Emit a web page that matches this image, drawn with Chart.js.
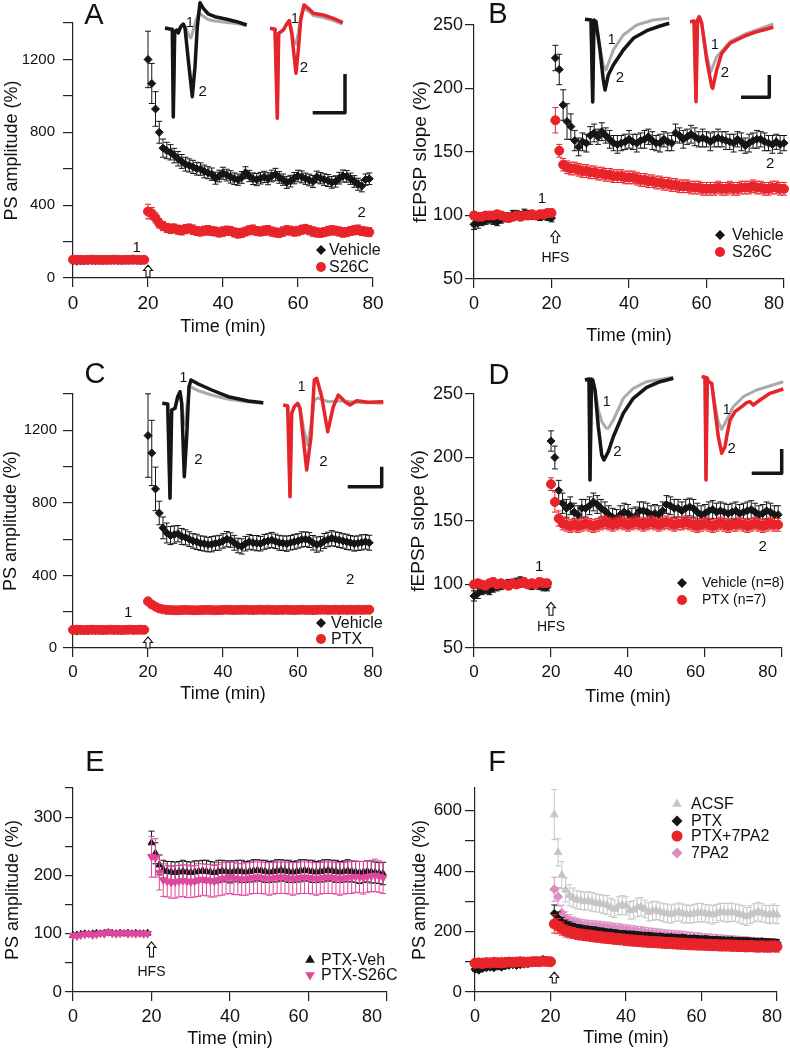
<!DOCTYPE html>
<html>
<head>
<meta charset="utf-8">
<title>PS amplitude and fEPSP slope after HFS</title>
<script src="https://cdn.jsdelivr.net/npm/chart.js"></script>
<style>
  body { margin: 0; background: #fff; }
  #fig { position: relative; width: 790px; height: 1050px; overflow: hidden; }
  #fig canvas { position: absolute; }
</style>
</head>
<body>
<div id="fig"></div>
<script>
// ---------- data (% of baseline, one point per minute) ----------
// Panel A: PS amplitude, Vehicle vs S26C
const aVehBase = [93,92,94,95,96,95,94,96,97,96,97,96,97,98,97,98,97,98,97,98];
const aVehPost = [1200,1068,928,800,713,700,690,672,655,640,
                  625,618,610,600,598,585,578,570,548,560,
                  575,565,555,545,540,552,578,560,545,540,
                  548,555,545,560,568,552,540,525,532,548,
                  560,555,545,538,530,555,548,540,535,525,
                  530,548,560,558,545,530,515,505,540,545];
const aVehErrBase = [6,6,6,6,6,6,6,6,6,6,6,6,6,6,6,6,6,6,6,6];
const aVehErrPost = [155,110,95,60,50,45,42,40,40,38,
                     38,36,36,35,34,35,33,34,33,32,
                     33,32,34,32,31,32,33,31,32,33,
                     32,31,33,32,34,32,31,33,32,31,
                     32,33,31,32,33,32,31,32,33,32,
                     31,32,33,32,31,32,33,32,31,32];
const aS26CBase = [101,100,100,99,100,101,100,100,99,100,100,101,100,99,100,100,101,100,99,100];
const aS26CPost = [365,355,330,300,285,275,270,272,265,262,
                   268,272,265,258,255,260,262,258,255,250,
                   255,260,258,250,245,248,255,262,265,258,
                   255,260,262,255,250,248,255,262,260,255,
                   258,265,270,262,255,250,248,252,258,262,
                   260,255,250,252,258,262,265,258,255,252];
const aS26CErrBase = [5,5,5,5,5,5,5,5,5,5,5,5,5,5,5,5,5,5,5,5];
const aS26CErrPost = [40,32,28,26,25,25,26,24,25,26,
                      25,24,26,25,24,25,26,25,24,25,
                      26,25,24,25,26,25,24,25,26,25,
                      24,25,26,25,24,25,26,25,24,25,
                      26,25,24,25,26,25,24,25,26,25,
                      24,25,26,25,24,25,26,25,24,25];

// Panel B: fEPSP slope, Vehicle vs S26C (0..80 min)
const bVehBase = [93,94,95,96,97,96,95,97,98,99,101,101,100,102,101,100,100,99,100,99,98];
const bVehPost = [224,215,187,174,170,159,154,158,157,163,
                  165,162,166,163,160,157,156,157,158,160,
                  158,157,159,160,162,159,157,157,160,158,
                  157,165,163,160,162,164,162,160,161,160,
                  158,160,161,160,159,158,157,160,158,155,
                  157,159,160,160,158,157,156,158,156,157];
const bVehErrBase = [4,4,3,3,3,3,3,3,3,3,3,3,3,3,3,3,3,3,3,3,3];
const bVehErrPost = [10,12,12,14,10,8,7,7,7,7,
                     7,6,7,6,7,6,7,6,6,7,
                     6,7,6,7,6,7,6,7,6,7,
                     6,7,6,7,6,7,7,6,7,6,
                     7,6,7,6,7,6,7,6,7,6,
                     7,6,7,6,7,6,7,6,7,6];
const bS26CBase = [100,99,99,100,100,100,101,100,99,98,99,100,99,100,100,101,100,101,101,102,102];
const bS26CPost = [175,151,140,138,137,137,136,135,135,134,
                   134,133,133,132,132,131,131,131,130,130,
                   130,129,128,128,127,127,126,126,125,125,
                   124,124,123,123,123,122,122,122,121,121,
                   121,121,122,121,121,122,121,121,122,122,
                   122,123,122,122,121,121,122,122,121,121];
const bS26CErrBase = [3,3,3,3,3,3,3,3,3,3,3,3,3,3,3,3,3,3,3,3,3];
const bS26CErrPost = [10,5,5,5,5,5,5,5,5,5,
                      5,5,5,5,5,5,5,5,5,5,
                      5,5,5,5,5,5,5,5,5,5,
                      5,5,5,5,5,5,5,5,5,5,
                      5,5,5,5,5,5,5,5,5,5,
                      5,5,5,5,5,5,5,5,5,5];

// Panel C: PS amplitude, Vehicle vs PTX
const cVehBase = [94,93,95,96,95,97,96,97,98,97,98,97,98,99,98,99,98,99,98,99];
const cVehPost = [1171,1075,877,744,662,634,620,625,630,615,
                  610,600,590,585,578,575,570,572,578,580,
                  590,600,595,580,565,560,575,585,580,578,
                  575,585,590,595,588,580,578,575,580,585,
                  590,598,600,595,580,570,575,590,598,605,
                  600,595,590,585,580,575,578,582,585,580];
const cVehErrBase = [7,7,7,7,7,7,7,7,7,7,7,7,7,7,7,7,7,7,7,7];
const cVehErrPost = [230,180,120,65,60,55,50,48,45,44,
                     42,41,40,42,40,41,40,42,40,41,
                     40,42,40,41,40,42,40,41,40,42,
                     40,41,40,42,40,41,40,42,40,41,
                     40,42,40,41,40,42,40,41,40,42,
                     40,41,40,42,40,41,40,42,40,41];
const cPTXBase = [100,101,100,99,100,101,100,100,99,100,101,100,100,99,100,101,100,100,101,100];
const cPTXPost = [257,240,228,218,213,210,209,208,208,209,
                  210,209,208,208,209,210,210,209,208,209,
                  210,211,210,209,210,210,211,210,209,210,
                  211,210,211,210,209,210,210,211,210,209,
                  210,211,210,210,209,210,211,211,210,210,
                  211,210,211,210,211,210,211,210,211,211];
const cPTXErrBase = [6,6,6,6,6,6,6,6,6,6,6,6,6,6,6,6,6,6,6,6];
const cPTXErrPost = [9,8,8,7,7,7,7,7,7,7,
                     7,7,7,7,7,7,7,7,7,7,
                     7,7,7,7,7,7,7,7,7,7,
                     7,7,7,7,7,7,7,7,7,7,
                     7,7,7,7,7,7,7,7,7,7,
                     7,7,7,7,7,7,7,7,7,7];

// Panel D: fEPSP slope, Vehicle (n=8) vs PTX (n=7)
const dVehBase = [91,93,95,96,95,97,98,99,100,101,101,102,103,101,100,99,100,99,98,98];
const dVehPost = [213,200,174,164,160,162,157,155,160,160,
                  162,165,163,160,158,155,153,152,155,157,
                  156,153,154,158,158,157,155,156,155,158,
                  163,162,160,160,158,160,161,160,157,155,
                  156,158,159,157,158,157,156,157,158,156,
                  157,158,159,157,155,156,158,157,155,155];
const dVehErrBase = [4,4,3,3,3,3,3,3,3,3,3,3,3,3,3,3,3,3,3,3];
const dVehErrPost = [8,9,8,8,7,7,7,7,7,7,
                     7,7,7,7,7,7,7,7,7,7,
                     7,7,7,7,7,7,7,7,7,7,
                     7,7,7,7,7,7,7,7,7,7,
                     7,7,7,7,7,7,7,7,7,7,
                     7,7,7,7,7,7,7,7,7,7];
const dPTXBase = [100,101,100,99,101,102,100,101,100,99,101,100,101,102,100,101,100,102,101,101];
const dPTXPost = [179,165,152,148,147,146,147,146,147,148,
                  147,146,147,148,149,148,147,148,149,148,
                  147,148,149,148,147,148,149,148,147,148,
                  149,148,147,148,148,149,148,147,146,147,
                  148,147,146,147,148,147,146,147,147,148,
                  147,146,147,148,147,146,147,148,147,147];
const dPTXErrBase = [3,3,3,3,3,3,3,3,3,3,3,3,3,3,3,3,3,3,3,3];
const dPTXErrPost = [5,8,6,5,5,5,5,5,5,5,
                     5,5,5,5,5,5,5,5,5,5,
                     5,5,5,5,5,5,5,5,5,5,
                     5,5,5,5,5,5,5,5,5,5,
                     5,5,5,5,5,5,5,5,5,5,
                     5,5,5,5,5,5,5,5,5,5];

// Panel E: PS amplitude, PTX-Veh vs PTX-S26C
const eVehBase = [97,98,99,100,99,100,101,100,101,102,101,100,101,100,101,100,101,100,100,101];
const eVehPost = [256,238,218,210,207,206,205,206,207,206,
                  205,206,207,208,207,206,205,207,208,207,
                  206,207,208,207,206,207,208,209,208,207,
                  206,207,208,209,208,207,206,207,208,209,
                  208,207,206,207,208,209,208,207,206,207,
                  208,207,206,205,206,207,206,205,204,203];
const eVehErrBase = [3,3,3,3,3,3,3,3,3,3,3,3,3,3,3,3,3,3,3,3];
const eVehErrPost = [20,18,17,16,17,18,18,18,19,18,
                     18,19,18,18,19,18,18,19,18,18,
                     19,18,18,19,18,18,19,18,18,19,
                     18,18,19,18,18,19,18,18,19,18,
                     18,19,18,18,19,18,18,19,18,18,
                     19,18,18,19,18,18,19,18,18,19];
const eS26CBase = [97,96,98,99,100,98,99,101,100,103,101,100,101,102,100,101,100,101,100,100];
const eS26CPost = [232,230,205,192,190,188,189,190,191,190,
                   189,190,192,193,192,191,190,192,194,195,
                   196,195,194,193,194,195,196,197,196,195,
                   194,195,196,197,196,195,194,195,196,197,
                   196,195,194,195,196,197,196,195,194,195,
                   196,197,198,197,196,198,199,200,198,196];
const eS26CErrBase = [3,3,3,3,3,3,3,3,3,3,3,3,3,3,3,3,3,3,3,3];
const eS26CErrPost = [35,33,30,28,27,27,28,27,27,28,
                      27,27,28,27,27,28,27,27,28,27,
                      27,28,27,27,28,27,27,28,27,27,
                      28,27,27,28,27,27,28,27,27,28,
                      27,27,28,27,27,28,27,27,28,27,
                      27,28,27,27,28,27,27,28,27,27];

// Panel F: PS amplitude, ACSF / PTX / PTX+7PA2 / 7PA2 (0..80 min)
const fACSFBase = [95,92,95,96,97,98,99,100,99,100,101,100,101,100,101,102,101,100,101,102,100];
const fACSFPost = [587,462,387,338,320,312,305,303,300,302,
                   298,295,293,290,288,280,275,285,288,285,
                   270,272,280,282,275,265,268,270,266,262,
                   260,258,262,265,260,258,257,260,262,263,
                   260,258,256,260,265,263,262,264,262,258,
                   255,250,256,262,266,262,258,256,260,256];
const fACSFErrBase = [8,8,8,8,8,8,8,8,8,8,8,8,8,8,8,8,8,8,8,8,8];
const fACSFErrPost = [83,45,45,40,35,32,30,30,29,30,
                      31,30,29,30,31,30,29,30,31,30,
                      29,30,31,30,29,30,31,30,29,30,
                      31,30,29,30,31,30,29,30,31,30,
                      29,30,31,30,29,30,31,30,29,30,
                      31,30,29,30,31,30,29,30,31,30];
const fPTXBase = [75,72,78,80,82,80,85,82,86,88,90,88,90,92,94,96,98,100,108,105,100];
const fPTXPost = [260,245,232,225,220,216,212,211,208,207,
                  205,204,201,200,197,197,195,193,192,191,
                  190,190,188,187,186,186,184,183,183,181,
                  180,181,179,178,179,177,176,177,175,174,
                  175,173,172,173,171,171,170,171,169,169,
                  168,169,167,167,166,167,165,165,164,163];
const fPTXErrBase = [6,6,6,6,6,6,6,6,6,6,6,6,6,6,6,6,6,6,6,6,6];
const fPTXErrPost = [28,20,15,13,12,11,11,10,11,10,
                     11,10,11,10,11,10,11,10,11,10,
                     11,10,11,10,11,10,11,10,11,10,
                     11,10,11,10,11,10,11,10,11,10,
                     11,10,11,10,11,10,11,10,11,10,
                     11,10,11,10,11,10,11,10,11,10];
const fComboBase = [95,96,94,97,96,98,97,96,98,99,98,99,100,99,98,100,101,100,102,101,100];
const fComboPost = [225,218,210,202,198,195,192,190,188,187,
                    185,183,182,180,179,178,176,175,174,172,
                    171,170,169,168,167,166,165,165,164,163,
                    162,162,161,160,160,159,158,158,157,157,
                    156,156,155,155,154,154,154,153,153,152,
                    152,151,152,151,150,151,150,150,151,150];
const fComboErrBase = [8,8,8,8,8,8,8,8,8,8,8,8,8,8,8,8,8,8,8,8,8];
const fComboErrPost = [30,25,22,20,19,18,18,18,18,18,
                       18,18,18,18,18,18,18,18,18,18,
                       18,18,18,18,18,18,18,18,18,18,
                       18,18,18,18,18,18,18,18,18,18,
                       18,18,18,18,18,18,18,18,18,18,
                       18,18,18,18,18,18,18,18,18,18];
const f7PA2Base = [98,99,100,101,100,102,101,103,100,101,102,100,101,102,103,101,100,102,101,100,101];
const f7PA2Post = [340,315,262,245,238,232,228,225,223,221,
                   220,219,218,216,215,213,211,210,208,206,
                   205,203,201,200,198,196,195,193,192,190,
                   189,188,187,186,185,183,182,181,180,178,
                   177,176,175,174,173,172,171,170,169,168,
                   167,166,165,164,163,162,161,160,159,158];
const f7PA2ErrBase = [6,6,6,6,6,6,6,6,6,6,6,6,6,6,6,6,6,6,6,6,6];
const f7PA2ErrPost = [40,30,25,20,18,16,16,16,16,16,
                      16,16,16,16,16,16,16,16,16,16,
                      16,16,16,16,16,16,16,16,16,16,
                      16,16,16,16,16,16,16,16,16,16,
                      16,16,16,16,16,16,16,16,16,16,
                      16,16,16,16,16,16,16,16,16,16];

// ---------- inset traces: [t, v] pairs (t in sample units, v negative = downward) ----------
const trA_veh1 = [[5,-28],[10,-29],[12.3,-29.3],[13.3,-117],[14.7,-31.7],[16.7,-30],[18.3,-33],[20.7,-26.7],[23.3,-24],[26,-28],[29,-36],[31,-38],[33,-31],[36,-20],[39,-13],[43,-16],[48,-19.5],[55,-21],[66.7,-22.5],[76.7,-23.5],[86.7,-25.5]];
const trA_veh2 = [[5,-28],[10,-29],[12.3,-29.3],[13.3,-117],[14.7,-31.7],[16.7,-30],[18.3,-33],[20.7,-26.7],[23.3,-24],[25,-28],[28.3,-60],[32.3,-96.7],[35,-66.7],[37.3,-26.7],[40,-2.7],[43.3,-8.3],[48.3,-14],[55,-16.7],[66.7,-19.3],[76.7,-21.7],[86.7,-25]];
const trA_drug1 = [[110,-28.3],[115,-29.3],[117.3,-118.3],[118.7,-33.3],[123.3,-30],[126.7,-24],[129.3,-20.7],[131.7,-31],[134,-42],[136,-44],[138.3,-33],[141,-15],[143.5,-8.5],[148.3,-11],[153.3,-15.5],[163.3,-17.5],[173.3,-20.5],[182.7,-24]];
const trA_drug2 = [[110,-28.3],[115,-29.3],[117.3,-118.3],[118.7,-33.3],[123.3,-30],[126.7,-24],[129.3,-20.7],[131.7,-33.3],[136,-73.3],[138.3,-50],[140.7,-20],[144,-5],[148.3,-8.3],[153.3,-13.3],[163.3,-15],[173.3,-18.3],[182.7,-22.7]];
const trA_bar = [[152.7,-112.7],[185,-112.7],[185,-74]];

const trB_veh1 = [[5,-9.3],[11,-10],[12.7,-92],[14,-10],[16,-11.7],[20,-38],[23.3,-55],[26,-60],[28.5,-53],[33.3,-40],[43.3,-25],[56.7,-15],[73.3,-10],[89.3,-8.3]];
const trB_veh2 = [[5,-9.3],[11,-10],[12.7,-92],[14,-10],[16,-11.7],[20,-40],[23.3,-70],[25,-80],[28.3,-65],[33.3,-55],[43.3,-40],[53.3,-28.3],[66.7,-20.7],[80,-16],[89.3,-13.3]];
const trB_drug1 = [[110,-11.7],[114,-11],[116,-91.7],[117.5,-10],[119.3,-6.7],[121.7,-13.3],[126.7,-45],[130.7,-62],[136.7,-46.7],[150,-31.7],[166.7,-23.3],[193.3,-14]];
const trB_drug2 = [[110,-11.7],[114,-11],[116,-91.7],[117.5,-10],[119.3,-6.7],[121.7,-13.3],[126.7,-50],[131.7,-76.7],[132.7,-78.3],[136.7,-60],[141.7,-43.3],[150,-33.3],[163.3,-26.7],[176.7,-21.7],[193.3,-17.3]];
const trB_bar = [[161,-87.3],[189.3,-87.3],[189.3,-65]];

const trC_veh1 = [[7.3,-33.3],[12.7,-34],[15,-128.3],[16.7,-40],[20,-38.3],[22.7,-26.7],[25,-21.7],[26.7,-33],[28.5,-55],[30,-55],[32,-35],[35,-16.7],[43.3,-20.7],[56.7,-25],[73.3,-29.3],[93.3,-32],[108.3,-33.3]];
const trC_veh2 = [[7.3,-33.3],[12.7,-34],[15,-128.3],[16.7,-40],[20,-38.3],[22.7,-26.7],[25,-21.7],[26.7,-33.3],[29.3,-106.7],[31.7,-66.7],[34,-16.7],[36,-10],[43.3,-14],[56.7,-20],[73.3,-26.7],[93.3,-31],[108.3,-32.7]];
const trC_drug1 = [[128.3,-35],[132.7,-36],[135,-126.7],[136.7,-43.3],[139.3,-36.7],[142.7,-33.3],[145,-38.3],[149,-60],[152.5,-75],[156,-55],[159.3,-30],[163,-28],[173,-31.7],[186.7,-30.7],[200,-32.3],[228.3,-33.3]];
const trC_drug2 = [[128.3,-35],[132.7,-36],[135,-126.7],[136.7,-43.3],[139.3,-36.7],[142.7,-33.3],[145,-38.3],[151.7,-100],[156,-66.7],[159.3,-10],[161.7,-8.3],[166.7,-26.7],[172.7,-61.7],[178.3,-36.7],[183.3,-25],[190,-31.7],[195,-35],[201.7,-30.7],[213.3,-32.3],[228.3,-31.7]];
const trC_bar = [[192.7,-116.7],[226.7,-116.7],[226.7,-96.7]];

const trD_veh1 = [[5,-10],[9,-9],[10,-110],[11.5,-9],[12.7,-10],[15,-20],[18.3,-40],[22,-52],[26,-58],[28.3,-58.3],[33.3,-50],[43.3,-28.3],[53.3,-18.3],[66.7,-11.7],[93.3,-7.3]];
const trD_veh2 = [[5,-10],[9,-9],[10,-110],[11.5,-9],[12.7,-10],[15,-20],[18.3,-56.7],[21.7,-85],[24,-90],[28.3,-81.7],[33.3,-66.7],[43.3,-43.3],[53.3,-28.3],[66.7,-17.3],[80,-11.7],[93.3,-8.3]];
const trD_drug1 = [[121.7,-6.7],[125,-7.3],[126,-110],[127.3,-8],[128.3,-11.7],[131.7,-13.3],[135,-35],[138.3,-52],[141.7,-59.3],[146.7,-50],[153.3,-36.7],[163.3,-26.7],[176.7,-20],[203.3,-11.7]];
const trD_drug2 = [[121.7,-6.7],[125,-7.3],[126,-110],[127.3,-8],[128.3,-11.7],[131.7,-13.3],[135,-40],[138.3,-66.7],[141.7,-83.3],[145,-76.7],[147.3,-63.3],[150,-50],[155,-41.7],[161.7,-36.7],[166.7,-32.7],[170,-31.7],[173.3,-35],[180,-30],[190,-23.3],[203.3,-19]];
const trD_bar = [[171.7,-103.3],[201.7,-103.3],[201.7,-79]];

// ---------- helpers ----------
const FONT = '"Liberation Sans", Arial, Helvetica, sans-serif';
Chart.defaults.font.family = FONT;
Chart.defaults.color = '#111';
const RED = '#e8242b', BLACK = '#151515', GREY = '#aaaaaa', LIGHT = '#c6c6c6', MAGENTA = '#df479c', PINK = '#dc8ec0';
const fig = document.getElementById('fig');

function minutes(a, b) { const out = []; for (let m = a; m <= b; m++) out.push(m); return out; }
function series(t, v, e, style) {
  return Object.assign({ data: t.map((x, i) => ({ x: x, y: v[i] })), err: e, clip: false, borderWidth: 1 }, style);
}
function addCanvas(box) {
  const cv = document.createElement('canvas');
  const w = box[2] - box[0], h = box[3] - box[1];
  cv.width = w; cv.height = h;
  cv.style.left = box[0] + 'px'; cv.style.top = box[1] + 'px';
  cv.style.width = w + 'px'; cv.style.height = h + 'px';
  fig.appendChild(cv);
  return cv;
}

const errorBars = {
  id: 'errorBars',
  beforeDatasetDraw(chart, args) {
    const ds = chart.data.datasets[args.index];
    if (!ds.err) return;
    const xs = chart.scales.x, ys = chart.scales.y, ctx = chart.ctx;
    ctx.save();
    ctx.strokeStyle = ds.borderColor;
    ctx.lineWidth = 1;
    ds.data.forEach((p, i) => {
      const e = ds.err[i];
      if (!e) return;
      const x = xs.getPixelForValue(p.x);
      const y1 = ys.getPixelForValue(p.y + e), y2 = ys.getPixelForValue(p.y - e);
      ctx.beginPath();
      ctx.moveTo(x, y1); ctx.lineTo(x, y2);
      ctx.moveTo(x - 3, y1); ctx.lineTo(x + 3, y1);
      ctx.moveTo(x - 3, y2); ctx.lineTo(x + 3, y2);
      ctx.stroke();
    });
    ctx.restore();
  }
};

function drawMarker(ctx, style, rot, x, y, r, color) {
  ctx.fillStyle = color;
  ctx.beginPath();
  if (style === 'circle') {
    ctx.arc(x, y, r, 0, Math.PI * 2);
  } else if (style === 'rectRot') {
    ctx.moveTo(x, y - r); ctx.lineTo(x + r, y); ctx.lineTo(x, y + r); ctx.lineTo(x - r, y);
  } else {
    const s = rot ? -1 : 1;
    ctx.moveTo(x, y - s * r); ctx.lineTo(x + r * 0.87, y + s * r * 0.5); ctx.lineTo(x - r * 0.87, y + s * r * 0.5);
  }
  ctx.closePath();
  ctx.fill();
}

// letters, point labels, HFS arrow and legend for one chart
function makeMarks(m, ox, oy) {
  return {
    id: 'marks',
    afterDraw(chart) {
      const ctx = chart.ctx, xs = chart.scales.x, ys = chart.scales.y;
      ctx.save();
      ctx.fillStyle = '#111';
      ctx.textAlign = 'center';
      ctx.textBaseline = 'middle';
      if (m.letter) {
        ctx.font = '29px ' + FONT;
        ctx.fillText(m.letter[0], m.letter[1] - ox, m.letter[2] - oy);
      }
      (m.labels || []).forEach(l => {
        ctx.font = (l[3] || 15) + 'px ' + FONT;
        ctx.fillStyle = '#111';
        ctx.fillText(l[0], xs.getPixelForValue(l[1]), ys.getPixelForValue(l[2]));
      });
      if (m.arrow) {
        const a = m.arrow, x = xs.getPixelForValue(a.x), y = ys.getPixelForValue(a.y), L = a.len || 12;
        ctx.beginPath();
        ctx.moveTo(x, y);
        ctx.lineTo(x + 4.5, y + 5.5); ctx.lineTo(x + 2, y + 5.5); ctx.lineTo(x + 2, y + L);
        ctx.lineTo(x - 2, y + L); ctx.lineTo(x - 2, y + 5.5); ctx.lineTo(x - 4.5, y + 5.5);
        ctx.closePath();
        ctx.fillStyle = '#fff'; ctx.fill();
        ctx.strokeStyle = '#111'; ctx.lineWidth = 1.1; ctx.stroke();
        if (a.hfs) {
          ctx.fillStyle = '#111';
          ctx.font = '14px ' + FONT;
          ctx.fillText('HFS', x, y + a.hfs);
        }
      }
      if (m.legend) {
        const lg = m.legend;
        ctx.textAlign = 'left';
        ctx.font = lg.font + 'px ' + FONT;
        lg.items.forEach(it => {
          const ds = chart.data.datasets[it[0]];
          drawMarker(ctx, ds.pointStyle, ds.pointRotation, lg.mx - ox, it[2] - oy, lg.r || 5, ds.backgroundColor);
          ctx.fillStyle = '#111';
          ctx.fillText(it[1], lg.tx - ox, it[2] - oy + 0.5);
        });
      }
      ctx.restore();
    }
  };
}

function makePanel(c) {
  const box = c.box, area = c.area;
  const cv = addCanvas(box);
  const yW = area[0] - box[0], padTop = area[1] - box[1], padRight = box[2] - area[2], xH = box[3] - area[3];
  const shift = c.xShift || {};
  new Chart(cv, {
    type: 'scatter',
    data: { datasets: c.datasets },
    options: {
      responsive: false, animation: false, events: [],
      layout: { padding: { top: padTop, right: padRight, left: 0, bottom: 0 } },
      plugins: { legend: { display: false }, tooltip: { enabled: false } },
      scales: {
        x: {
          type: 'linear', min: 0, max: 80,
          afterFit(s) { s.height = xH; s.paddingLeft = 0; s.paddingRight = 0; },
          ticks: { stepSize: 20, padding: 5, maxRotation: 0, autoSkip: false, font: { size: c.xFont }, color: '#111',
                   callback: v => v + '\u2007'.repeat(shift[v] || 0) },
          grid: { drawOnChartArea: false, tickLength: 9, color: '#222', lineWidth: 1.2 },
          border: { color: '#222', width: 1.2 },
          title: { display: true, text: 'Time (min)', font: { size: 18 }, color: '#111', padding: 0 }
        },
        y: {
          type: 'linear', min: c.y.min, max: c.y.max,
          afterFit(s) { s.width = yW; s.paddingTop = 0; s.paddingBottom = 0; },
          afterBuildTicks(s) { s.ticks = s.ticks.filter(t => Math.abs(t.value % c.y.step) < 1e-6); },
          ticks: { stepSize: c.y.step, padding: c.y.pad, font: { size: c.y.font }, color: '#111',
                   callback: v => c.y.labels.includes(v) ? v : '' },
          grid: { drawOnChartArea: false, tickLength: c.y.tick, color: '#222', lineWidth: 1.2 },
          border: { color: '#222', width: 1.2 },
          title: { display: true, text: c.y.title, font: { size: c.y.titleFont }, color: '#111', padding: 0 }
        }
      }
    },
    plugins: [errorBars, makeMarks(c.marks, box[0], box[1])]
  });
}

function makeInset(c) {
  const box = c.box;
  const cv = addCanvas(box);
  const W = box[2] - box[0], H = box[3] - box[1];
  const line = (pts, color, w, order) => ({
    data: pts.map(p => ({ x: p[0], y: p[1] })), showLine: true, pointRadius: 0,
    borderColor: color, borderWidth: w, tension: 0, clip: false, order: order,
    borderJoinStyle: 'round', borderCapStyle: 'butt'
  });
  new Chart(cv, {
    type: 'scatter',
    data: { datasets: [
      line(c.veh1, GREY, 3, 4), line(c.veh2, BLACK, 3.5, 3),
      line(c.drug1, GREY, 3, 2), line(c.drug2, c.color, 3.5, 1),
      line(c.bar, BLACK, 3.5, 0)
    ] },
    options: {
      responsive: false, animation: false, events: [],
      layout: { padding: 0 },
      plugins: { legend: { display: false }, tooltip: { enabled: false } },
      scales: { x: { type: 'linear', display: false, min: 0, max: W }, y: { type: 'linear', display: false, min: -H, max: 0 } }
    },
    plugins: [makeMarks({ labels: c.labels }, box[0], box[1])]
  });
}

// ---------- style presets ----------
const blackDiamond = { pointStyle: 'rectRot', pointRadius: 4, backgroundColor: BLACK, borderColor: BLACK };
const redCircle = { pointStyle: 'circle', pointRadius: 4.5, backgroundColor: RED, borderColor: RED };

const t0_79 = minutes(0, 79), t0_80 = minutes(0, 80);

// ---------- panels ----------
makePanel({
  box: [1, 0, 395, 338], area: [73, 23, 373, 278], xFont: 19,
  y: { min: 0, max: 1400, step: 200, labels: [0, 400, 800, 1200], font: 15, pad: 8, tick: 10, title: 'PS amplitude (%)', titleFont: 18 },
  datasets: [
    series(t0_79, aVehBase.concat(aVehPost), aVehErrBase.concat(aVehErrPost), Object.assign({ order: 1 }, blackDiamond)),
    series(t0_79, aS26CBase.concat(aS26CPost), aS26CErrBase.concat(aS26CErrPost), Object.assign({ order: 0 }, redCircle))
  ],
  marks: {
    letter: ['A', 94, 16],
    labels: [['1', 17, 165], ['2', 77, 357]],
    arrow: { x: 20, y: 71, len: 12 },
    legend: { font: 16, mx: 321, tx: 329, r: 5, items: [[0, 'Vehicle', 250], [1, 'S26C', 267]] }
  }
});

makePanel({
  box: [409, 0, 790, 347], area: [474, 25, 784, 279], xFont: 18, xShift: { 60: 1, 80: 2 },
  y: { min: 50, max: 250, step: 50, labels: [50, 100, 150, 200, 250], font: 18, pad: 2, tick: 9, title: 'fEPSP slope (%)', titleFont: 19 },
  datasets: [
    series(t0_80, bVehBase.concat(bVehPost), bVehErrBase.concat(bVehErrPost), Object.assign({ order: 1 }, blackDiamond)),
    series(t0_80, bS26CBase.concat(bS26CPost), bS26CErrBase.concat(bS26CErrPost), Object.assign({ order: 0 }, redCircle))
  ],
  marks: {
    letter: ['B', 498, 15],
    labels: [['1', 17.5, 113], ['2', 76.4, 140.5]],
    arrow: { x: 21, y: 88, len: 12, hfs: 27 },
    legend: { font: 16, mx: 720, tx: 732, r: 5, items: [[0, 'Vehicle', 235], [1, 'S26C', 252]] }
  }
});

makePanel({
  box: [0, 340, 395, 705], area: [73, 394, 373, 648], xFont: 17,
  y: { min: 0, max: 1400, step: 200, labels: [0, 400, 800, 1200], font: 15, pad: 6, tick: 10, title: 'PS amplitude (%)', titleFont: 18 },
  datasets: [
    series(t0_79, cVehBase.concat(cVehPost), cVehErrBase.concat(cVehErrPost), Object.assign({ order: 1 }, blackDiamond)),
    series(t0_79, cPTXBase.concat(cPTXPost), cPTXErrBase.concat(cPTXErrPost), Object.assign({ order: 0 }, redCircle))
  ],
  marks: {
    letter: ['C', 95, 375],
    labels: [['1', 14.7, 193], ['2', 73.9, 375]],
    arrow: { x: 20, y: 61, len: 11 },
    legend: { font: 16, mx: 321, tx: 331, r: 5, items: [[0, 'Vehicle', 623], [1, 'PTX', 639]] }
  }
});

makePanel({
  box: [407, 340, 790, 708], area: [474, 394, 782, 648], xFont: 17, xShift: { 40: 1, 60: 2, 80: 3 },
  y: { min: 50, max: 250, step: 50, labels: [50, 100, 150, 200, 250], font: 18, pad: 2, tick: 9, title: 'fEPSP slope (%)', titleFont: 19 },
  datasets: [
    series(t0_79, dVehBase.concat(dVehPost), dVehErrBase.concat(dVehErrPost), Object.assign({ order: 1 }, blackDiamond)),
    series(t0_79, dPTXBase.concat(dPTXPost), dPTXErrBase.concat(dPTXErrPost), Object.assign({ order: 0 }, redCircle))
  ],
  marks: {
    letter: ['D', 499, 376],
    labels: [['1', 16.9, 113.8], ['2', 75, 129.5]],
    arrow: { x: 20, y: 86, len: 13, hfs: 25 },
    legend: { font: 14, mx: 682, tx: 702, r: 5, items: [[0, 'Vehicle (n=8)', 583], [1, 'PTX (n=7)', 600]] }
  }
});

makePanel({
  box: [2, 745, 405, 1050], area: [73, 788, 387, 992], xFont: 18, xShift: { 60: 2, 80: 3 },
  y: { min: 0, max: 350, step: 50, labels: [0, 100, 200, 300], font: 17, pad: 3, tick: 8, title: 'PS amplitude (%)', titleFont: 18 },
  datasets: [
    series(t0_79, eVehBase.concat(eVehPost), eVehErrBase.concat(eVehErrPost),
           { order: 1, pointStyle: 'triangle', pointRadius: 4, backgroundColor: BLACK, borderColor: BLACK }),
    series(t0_79, eS26CBase.concat(eS26CPost), eS26CErrBase.concat(eS26CErrPost),
           { order: 0, pointStyle: 'triangle', pointRotation: 180, pointRadius: 4.5, backgroundColor: MAGENTA, borderColor: MAGENTA })
  ],
  marks: {
    letter: ['E', 95, 763],
    labels: [],
    arrow: { x: 20, y: 86, len: 15, hfs: 30 },
    legend: { font: 16, mx: 310, tx: 321, r: 5.5, items: [[0, 'PTX-Veh', 960], [1, 'PTX-S26C', 975]] }
  }
});

makePanel({
  box: [409, 745, 790, 1049], area: [475, 788, 777, 992], xFont: 18, xShift: { 60: 1, 80: 1 },
  y: { min: 0, max: 675, step: 100, labels: [0, 200, 400, 600], font: 17, pad: 3, tick: 10, title: 'PS amplitude (%)', titleFont: 18 },
  datasets: [
    series(t0_80, fACSFBase.concat(fACSFPost), fACSFErrBase.concat(fACSFErrPost),
           { order: 3, pointStyle: 'triangle', pointRadius: 4.5, backgroundColor: LIGHT, borderColor: LIGHT }),
    series(t0_80, fPTXBase.concat(fPTXPost), fPTXErrBase.concat(fPTXErrPost), Object.assign({ order: 1 }, blackDiamond)),
    series(t0_80, fComboBase.concat(fComboPost), fComboErrBase.concat(fComboErrPost),
           { order: 0, pointStyle: 'circle', pointRadius: 5, backgroundColor: RED, borderColor: RED }),
    series(t0_80, f7PA2Base.concat(f7PA2Post), f7PA2ErrBase.concat(f7PA2ErrPost),
           { order: 2, pointStyle: 'rectRot', pointRadius: 4.5, backgroundColor: PINK, borderColor: PINK })
  ],
  marks: {
    letter: ['F', 497, 763],
    labels: [],
    arrow: { x: 21, y: 66, len: 11 },
    legend: { font: 16, mx: 677, tx: 691, r: 5.5,
              items: [[0, 'ACSF', 804], [1, 'PTX', 821], [2, 'PTX+7PA2', 836], [3, '7PA2', 853]] }
  }
});

// ---------- insets (sample traces, 1 = before HFS, 2 = after HFS) ----------
makeInset({ box: [160, 0, 360, 125], veh1: trA_veh1, veh2: trA_veh2, drug1: trA_drug1, drug2: trA_drug2, bar: trA_bar, color: RED,
  labels: [['1', 30, -23, 14], ['2', 42.7, -92, 15], ['1', 135, -19, 14], ['2', 144, -68, 15]] });
makeInset({ box: [580, 10, 780, 110], veh1: trB_veh1, veh2: trB_veh2, drug1: trB_drug1, drug2: trB_drug2, bar: trB_bar, color: RED,
  labels: [['1', 31.7, -30, 14], ['2', 40, -68.3, 15], ['1', 135, -35, 14], ['2', 145, -63.3, 15]] });
makeInset({ box: [155, 370, 385, 505], veh1: trC_veh1, veh2: trC_veh2, drug1: trC_drug1, drug2: trC_drug2, bar: trC_bar, color: RED,
  labels: [['1', 28.3, -8.3, 14], ['2', 43.3, -90, 15], ['1', 146.7, -16.7, 14], ['2', 168.3, -91.7, 15]] });
makeInset({ box: [580, 370, 790, 485], veh1: trD_veh1, veh2: trD_veh2, drug1: trD_drug1, drug2: trD_drug2, bar: trD_bar, color: RED,
  labels: [['1', 26.7, -31.7, 14], ['2', 37.3, -81.7, 15], ['1', 146.7, -40, 14], ['2', 151.7, -79.3, 15]] });
</script>
</body>
</html>
